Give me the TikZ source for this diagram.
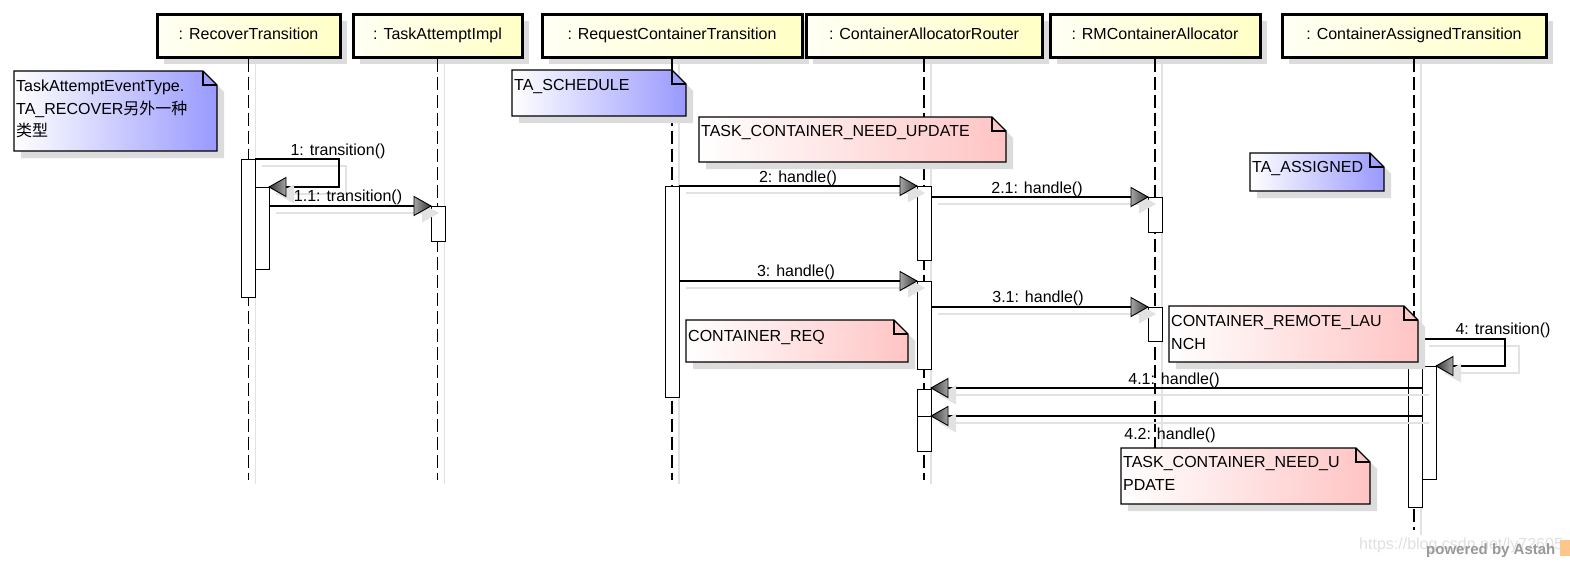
\documentclass[tikz,border=0pt]{standalone}
\usepackage{fontspec}
\setmainfont{Liberation Sans}
\newfontfamily\cjk{Noto Sans CJK SC}
\usetikzlibrary{calc}
\definecolor{shd}{HTML}{DCDCDC}
\definecolor{lshd}{HTML}{E2E2E2}
\definecolor{notebl}{HTML}{9999FF}
\definecolor{notepk}{HTML}{FFC4C4}
\definecolor{hdrA}{HTML}{FFFFF4}
\definecolor{hdrB}{HTML}{FFFFC6}
\tikzset{
  hdr/.style={draw=black, line width=3, left color=hdrA, right color=hdrB, minimum height=43, inner sep=0, text height=12, text depth=4},
  act/.style={draw=black, line width=1.1, fill=white, minimum width=14, inner sep=0, anchor=north west},
  lifeline/.style={line width=1.8, dash pattern=on 13pt off 5pt},
  lifesh/.style={line width=1.2, draw=lshd},
  msg/.style={line width=1.3},
  msgsh/.style={line width=1.3, draw=lshd},
  lbl/.style={inner sep=0, anchor=base},
  ntxt/.style={inner sep=0, anchor=base west},
  pics/headR/.style={code={
    \fill[lshd] (-9,-2.5) -- (8,7) -- (-9,16.5) -- cycle;
    \shadedraw[draw=black, line width=0.9, left color=black!35, right color=black!80] (-17,-9.5) -- (0,0) -- (-17,9.5) -- cycle;
  }},
  pics/headL/.style={code={
    \fill[lshd] (25,-2.5) -- (8,7) -- (25,16.5) -- cycle;
    \shadedraw[draw=black, line width=0.9, right color=black!35, left color=black!80] (17,-9.5) -- (0,0) -- (17,9.5) -- cycle;
  }},
}
\newcommand\notebox[5]{%
  \fill[shd] (#1+7,#2+7) -- (#3+7-14,#2+7) -- (#3+7,#2+7+14) -- (#3+7,#4+7) -- (#1+7,#4+7) -- cycle;
  \shadedraw[left color=white, right color=#5, draw=black, line width=1.3] (#1,#2) -- (#3-14,#2) -- (#3,#2+14) -- (#3,#4) -- (#1,#4) -- cycle;
  \draw[line width=1.3, line join=miter] (#3-14,#2) -- (#3-14,#2+14) -- (#3,#2+14);
}
\newcommand\hdrshadow[2]{\fill[shd] (#1+7,21) rectangle (#2+7,64);}
\begin{document}
\begin{tikzpicture}[x=1pt,y=-1pt,font=\fontsize{16}{19}\selectfont]
\useasboundingbox (0,0) rectangle (1570,562);
\fill[white] (0,0) rectangle (1570,562);

% ---------- header shadows and lifeline shadows
\hdrshadow{157}{340}
\hdrshadow{353}{522}
\hdrshadow{542}{802}
\hdrshadow{806}{1042}
\hdrshadow{1050}{1260}
\hdrshadow{1282}{1546}
\foreach \lx in {248.5,437.5,672,924,1155}{\draw[lifesh] (\lx+7,64) -- (\lx+7,484);}
\draw[lifesh] (1421,64) -- (1421,535);

% ---------- headers
\node[hdr, minimum width=183] (h1) at (248.5,35.5) {: RecoverTransition};
\node[hdr, minimum width=169] (h2) at (437.5,35.5) {: TaskAttemptImpl};
\node[hdr, minimum width=260] (h3) at (672,35.5) {: RequestContainerTransition};
\node[hdr, minimum width=236] (h4) at (924,35.5) {: ContainerAllocatorRouter};
\node[hdr, minimum width=210] (h5) at (1155,35.5) {: RMContainerAllocator};
\node[hdr, minimum width=264] (h6) at (1414,35.5) {: ContainerAssignedTransition};

% ---------- lifelines
\draw[lifeline] (h1.south) -- ++(0,421);
\draw[lifeline] (h2.south) -- ++(0,421);
\draw[lifeline] (h3.south) -- ++(0,421);
\draw[lifeline] (h4.south) -- ++(0,421);
\draw[lifeline] (h5.south) -- ++(0,421);
\draw[lifeline] (h6.south) -- ++(0,471);

% ---------- activation bars
\node[act, minimum height=138] (a1o) at (241,159) {};
\node[act, minimum height=82]  (a1i) at (255,187) {};
\node[act, minimum height=35]  (a2)  at (431,206) {};
\node[act, minimum height=211] (a3)  at (665,186) {};
\node[act, minimum height=74]  (a4a) at (917,186) {};
\node[act, minimum height=35]  (a5a) at (1148,197) {};
\node[act, minimum height=88]  (a4b) at (917,281) {};
\node[act, minimum height=34]  (a5b) at (1148,307) {};
\node[act, minimum height=27]  (a4c) at (917,389) {};
\node[act, minimum height=35]  (a4d) at (917,416) {};
\node[act, minimum height=168] (a6o) at (1408,339) {};
\node[act, minimum height=113] (a6i) at (1422,366) {};

% ---------- message end points
\coordinate (m1s) at (255,159);   \coordinate (m1e) at (269,187);
\coordinate (m11s) at (269,206);  \coordinate (m11e) at (431,206);
\coordinate (m2s) at (679,186);   \coordinate (m2e) at (917,186);
\coordinate (m21s) at (931,197);  \coordinate (m21e) at (1148,197);
\coordinate (m3s) at (679,281);   \coordinate (m3e) at (917,281);
\coordinate (m31s) at (931,307);  \coordinate (m31e) at (1148,307);
\coordinate (m4s) at (1422,339);  \coordinate (m4e) at (1436,366);
\coordinate (m41s) at (1422,388); \coordinate (m41e) at (931,388);
\coordinate (m42s) at (1422,416); \coordinate (m42e) at (931,416);

% ---------- message shadows
\draw[msgsh] ($(m1s)+(7,7)$) -- ++(84,0) |- ($(m1e)+(7,7)$);
\draw[msgsh] ($(m11s)+(7,7)$) -- ($(m11e)+(-9,7)$);
\draw[msgsh] ($(m2s)+(7,7)$) -- ($(m2e)+(-9,7)$);
\draw[msgsh] ($(m21s)+(7,7)$) -- ($(m21e)+(-9,7)$);
\draw[msgsh] ($(m3s)+(7,7)$) -- ($(m3e)+(-9,7)$);
\draw[msgsh] ($(m31s)+(7,7)$) -- ($(m31e)+(-9,7)$);
\draw[msgsh] ($(m4s)+(7,7)$) -- ++(90,0) |- ($(m4e)+(25,7)$);
\draw[msgsh] ($(m41s)+(7,7)$) -- ($(m41e)+(25,7)$);
\draw[msgsh] ($(m42s)+(7,7)$) -- ($(m42e)+(25,7)$);

% ---------- messages
\draw[msg] (m1s) -- ++(84,0) |- (m1e);
\draw[msg] (m11s) -- (m11e);
\draw[msg] (m2s) -- (m2e);
\draw[msg] (m21s) -- (m21e);
\draw[msg] (m3s) -- (m3e);
\draw[msg] (m31s) -- (m31e);
\draw[msg] (m4s) -- ++(83,0) |- (m4e);
\draw[msg] (m41s) -- (m41e);
\draw[msg] (m42s) -- (m42e);
\path (m1e) pic{headL};
\path (m11e) pic{headR};
\path (m2e) pic{headR};
\path (m21e) pic{headR};
\path (m3e) pic{headR};
\path (m31e) pic{headR};
\path (m4e) pic{headL};
\path (m41e) pic{headL};
\path (m42e) pic{headL};

% ---------- message labels
\node[lbl] (l1)  at (338,155) {1: transition()};
\node[lbl] (l11) at (348,201) {1.1: transition()};
\node[lbl] (l2)  at (798,182) {2: handle()};
\node[lbl] (l21) at (1037,193) {2.1: handle()};
\node[lbl] (l3)  at (796,276) {3: handle()};
\node[lbl] (l31) at (1038,302) {3.1: handle()};
\node[lbl] (l4)  at (1503,334) {4: transition()};
\node[lbl] (l41) at (1174,384) {4.1: handle()};
\node[lbl] (l42) at (1170,439) {4.2: handle()};

% ---------- notes
\notebox{14}{71}{217}{151}{notebl}
\node[ntxt] (n1a) at (16,91) {TaskAttemptEventType.};
\node[ntxt] (n1b) at (16,114) {TA\_RECOVER{\cjk 另外一种}};
\node[ntxt] (n1c) at (16,136) {{\cjk 类型}};

\notebox{512}{70}{686}{116}{notebl}
\node[ntxt] (n2) at (514,90) {TA\_SCHEDULE};

\notebox{699}{117}{1006}{162}{notepk}
\node[ntxt] (n3) at (701,136) {TASK\_CONTAINER\_NEED\_UPDATE};

\notebox{1250}{153}{1384}{191}{notebl}
\node[ntxt] (n4) at (1252,172) {TA\_ASSIGNED};

\notebox{686}{320}{908}{362}{notepk}
\node[ntxt] (n6) at (688,341) {CONTAINER\_REQ};

\notebox{1169}{306}{1418}{362}{notepk}
\node[ntxt] (n5a) at (1171,326) {CONTAINER\_REMOTE\_LAU};
\node[ntxt] (n5b) at (1171,349) {NCH};

\notebox{1121}{448}{1370}{504}{notepk}
\node[ntxt] (n7a) at (1123,467) {TASK\_CONTAINER\_NEED\_U};
\node[ntxt] (n7b) at (1123,490) {PDATE};

% ---------- watermarks
\node[ntxt, text=black!12] (wm1) at (1359,549) {https://blog.csdn.net/ly72605};
\node[ntxt, text=black!40, font=\bfseries\fontsize{15}{15}\selectfont] (wm2) at (1426,554) {powered by Astah};
\fill[orange!45] (1560,540) rectangle (1570,556);
\end{tikzpicture}
\end{document}
